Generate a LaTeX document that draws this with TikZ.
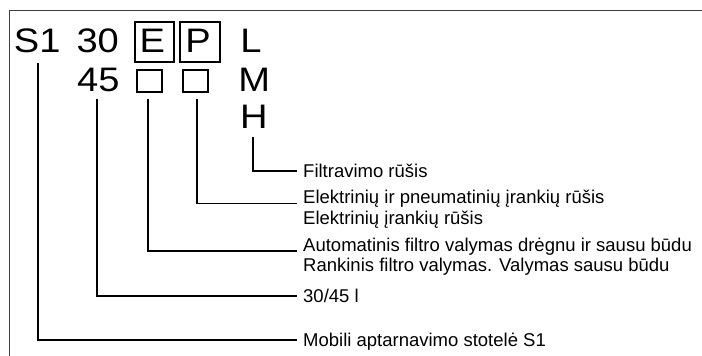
\documentclass[tikz,border=0pt]{standalone}
\usepackage{fontspec}
\setmainfont{Liberation Sans}
\newfontfamily\bigfont[FakeStretch=1.12]{Liberation Sans}
\begin{document}
\begin{tikzpicture}[x=1pt,y=-1pt,
  big/.style={font=\bigfont\fontsize{34}{34}\selectfont, inner sep=0pt, anchor=base west},
  boxletter/.style={font=\bigfont\fontsize{34}{34}\selectfont, inner sep=0pt, anchor=base},
  lbl/.style={font=\fontsize{18.5}{20}\selectfont, inner sep=0pt, anchor=base west},
  conn/.style={line width=1.7pt, line join=miter},
  codebox/.style={draw, line width=1.5pt},
  frameline/.style={line width=1pt, draw=black!75}
]
\useasboundingbox (0,0) rectangle (702,356);
% frame
\draw[frameline] (9,356) -- (9,10.5) -- (702,10.5);
% row 1
\node[big] (s1) at (13.7,52.5) {S1};
\node[big] (n30) at (76.3,52.5) {30};
\draw[codebox] (135,22) rectangle (174,62);
\node[boxletter] (e) at (152.3,52.5) {E};
\draw[codebox] (180,22) rectangle (220,62);
\node[boxletter] (p) at (198,52.5) {P};
\node[big] (l) at (240.2,52.5) {L};
% row 2
\node[big] (n45) at (77,91) {45};
\draw[codebox] (137,70) rectangle (162,92);
\draw[codebox] (183,70) rectangle (208,92);
\node[big] (m) at (238.2,91) {M};
% row 3
\node[big] (h) at (240,128.5) {H};
% labels
\node[lbl] (t1) at (303,177) {Filtravimo rūšis};
\node[lbl] (t2) at (303,203.5) {Elektrinių ir pneumatinių įrankių rūšis};
\node[lbl] (t3) at (303,224) {Elektrinių įrankių rūšis};
\node[lbl] (t4) at (303,251) {Automatinis filtro valymas drėgnu ir sausu būdu};
\node[lbl] (t5) at (303,271) {Rankinis filtro valymas. Valymas sausu būdu};
\node[lbl] (t6) at (303,302) {30/45 l};
\node[lbl] (t7) at (303,346) {Mobili aptarnavimo stotelė S1};
% connector start and end coordinates
\coordinate (hs) at (253,137);
\coordinate (he) at (297,171);
\coordinate (ps) at (197,99);
\coordinate (pe) at (297,203.5);
\coordinate (es) at (148,99);
\coordinate (ee) at (297,251);
\coordinate (ns) at (97,99);
\coordinate (ne) at (297,296);
\coordinate (ss) at (38,63);
\coordinate (se) at (297,340);
\draw[conn] (hs) |- (he);
\draw[conn] (ps) |- (pe);
\draw[conn] (es) |- (ee);
\draw[conn] (ns) |- (ne);
\draw[conn] (ss) |- (se);
\end{tikzpicture}
\end{document}
